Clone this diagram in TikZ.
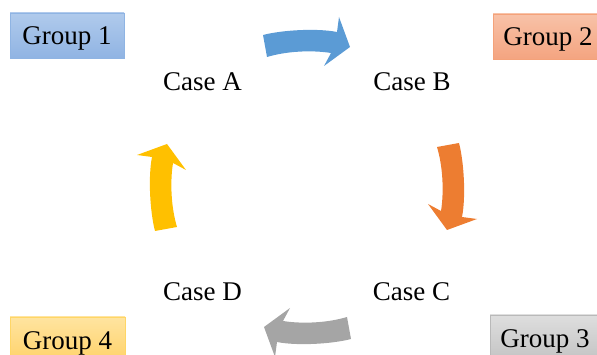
\documentclass[tikz,border=0pt]{standalone}
\usepackage{fontspec}
\setmainfont{Liberation Serif}
\definecolor{cblue}{RGB}{91,155,213}
\definecolor{corange}{RGB}{237,125,49}
\definecolor{cgray}{RGB}{165,165,165}
\definecolor{cyellow}{RGB}{255,192,0}
\begin{document}
\begin{tikzpicture}[x=1pt,y=-1pt,
  grp/.style={rectangle, line width=0.8pt, minimum width=114pt, minimum height=45pt, inner sep=0pt, text height=19pt, text depth=0pt, font=\fontsize{27}{30}\selectfont},
  casetxt/.style={inner sep=0pt, font=\fontsize{27}{30}\selectfont}]
\useasboundingbox (0,0) rectangle (597,355);
\clip (0,0) rectangle (597,355);
\coordinate (ctr) at (307,187);
% group boxes
\node[grp, draw={rgb,255:red,143;green,180;blue,227}, top color={rgb,255:red,176;green,202;blue,236}, bottom color={rgb,255:red,144;green,180;blue,227}] (g1) at (67,35.5) {Group 1};
\node[grp, minimum width=110pt, draw={rgb,255:red,244;green,162;blue,122}, top color={rgb,255:red,248;green,194;blue,168}, bottom color={rgb,255:red,244;green,164;blue,128}] (g2) at (548,36.5) {Group 2};
\node[grp, minimum width=110pt, draw={rgb,255:red,185;green,185;blue,185}, top color={rgb,255:red,222;green,222;blue,222}, bottom color={rgb,255:red,196;green,196;blue,196}] (g3) at (545,337.5) {Group 3};
\node[grp, minimum width=115pt, draw={rgb,255:red,255;green,214;blue,102}, top color={rgb,255:red,255;green,228;blue,160}, bottom color={rgb,255:red,255;green,210;blue,105}] (g4) at (67.5,339.5) {Group 4};
% cases
\node[casetxt] (ca) at (202.5,82) {Case A};
\node[casetxt] (cb) at (412,82) {Case B};
\node[casetxt] (cc) at (411.5,292) {Case C};
\node[casetxt] (cd) at (202.5,292) {Case D};
% curved block arrows
\foreach \ang/\col in {0/cblue,-90/corange,180/cgray,90/cyellow}{
  \fill[\col, shift={(ctr)}, rotate=\ang]
    (-44,-152) .. controls (-25,-157) and (10,-159) .. (30,-155)
    -- (32,-170) -- (43,-140) -- (17,-121) -- (24,-134)
    .. controls (5,-137) and (-20,-136) .. (-40,-130) -- cycle;
}
\end{tikzpicture}
\end{document}
